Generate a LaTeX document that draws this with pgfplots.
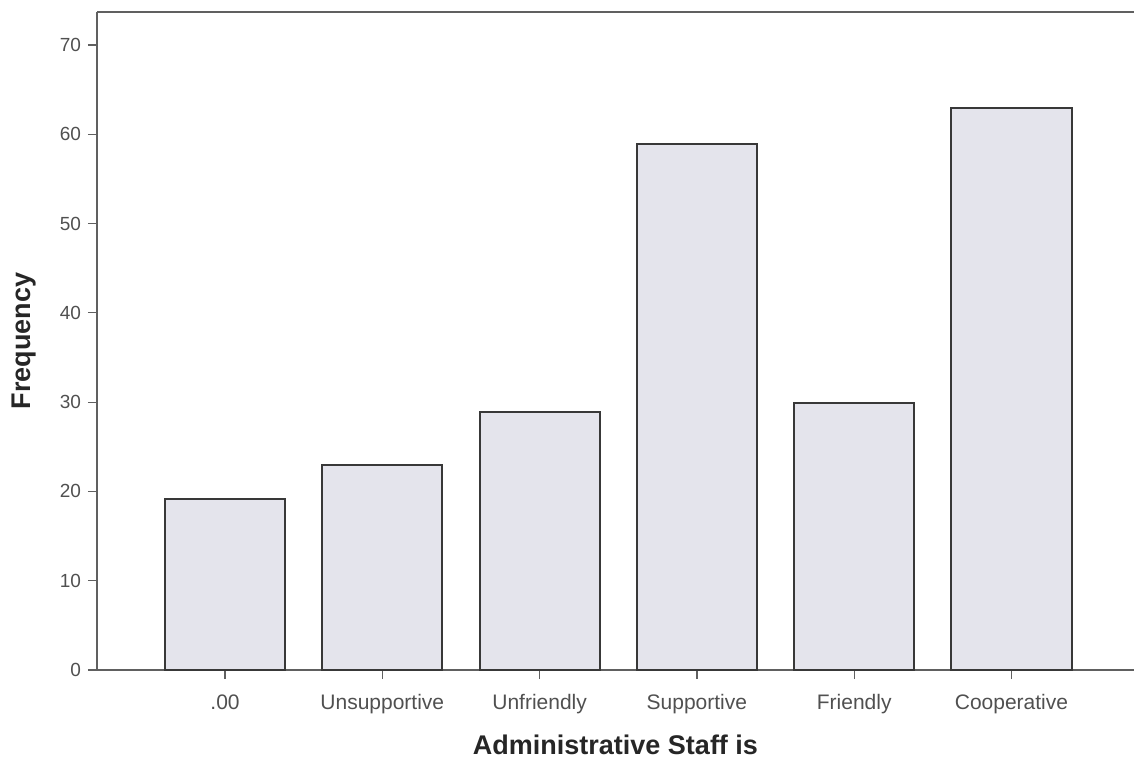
\documentclass[border=0pt]{standalone}
\usepackage{pgfplots}
\pgfplotsset{compat=1.18}
\usepackage{fontspec}
\setmainfont{Liberation Sans}
\definecolor{barfill}{HTML}{E4E4EC}
\definecolor{baredge}{HTML}{383838}
\definecolor{axcol}{HTML}{606060}
\definecolor{ticktext}{HTML}{505050}
\begin{document}
\begin{tikzpicture}
\begin{axis}[
  name=ax,
  scale only axis,
  width=518.5pt, height=329pt,
  xmin=-0.814, xmax=5.779,
  ymin=0, ymax=73.7,
  axis x line*=bottom,
  axis y line*=left,
  axis line style={axcol, line width=0.9pt, -},
  xtick=data,
  xticklabels={.00,Unsupportive,Unfriendly,Supportive,Friendly,Cooperative},
  ytick={0,10,20,30,40,50,60,70},
  tick align=outside,
  major tick length=4.5pt,
  tick style={axcol, line width=0.6pt},
  ticklabel style={text=ticktext},
  /pgf/number format/assume math mode=true,
  yticklabel style={font=\fontsize{9.5}{11}\selectfont},
  xticklabel style={font=\fontsize{10.5}{12}\selectfont, yshift=-3.5pt, text height=1.6ex, text depth=0.3ex},
  xlabel={\textbf{Administrative Staff is}},
  ylabel={\textbf{Frequency}},
  xlabel style={font=\fontsize{13.5}{15}\selectfont, text=black!85, yshift=-4pt},
  ylabel style={font=\fontsize{13.5}{15}\selectfont, text=black!85, yshift=5pt},
  clip=false,
]
\addplot[ybar, bar width=0.764, fill=barfill, draw=baredge, line width=1pt]
  coordinates {(0,19.2) (1,23) (2,28.9) (3,58.9) (4,29.9) (5,62.9)};
\draw[axcol, line width=0.9pt] (rel axis cs:0,1) -- (rel axis cs:1,1);
\end{axis}
\pgfresetboundingbox
\path[use as bounding box] ([xshift=-48.5pt,yshift=-45pt]ax.south west) rectangle ([yshift=6pt]ax.north east);
\end{tikzpicture}
\end{document}
